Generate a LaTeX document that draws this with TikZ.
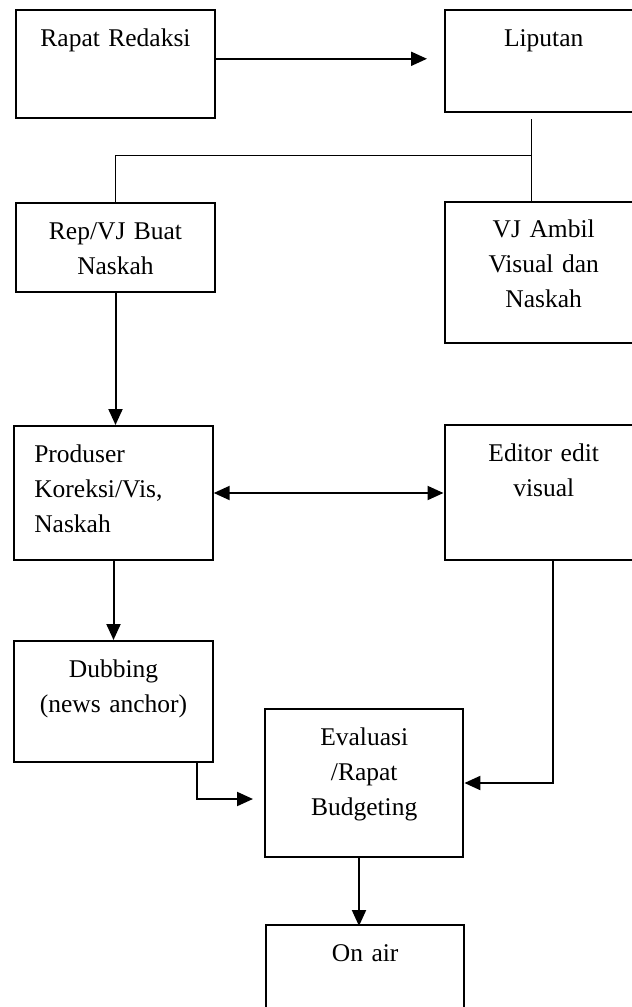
\documentclass[tikz,border=0pt]{standalone}
\usepackage{fontspec}
\setmainfont{Liberation Serif}
\usetikzlibrary{arrows.meta}

\begin{document}
\begin{tikzpicture}[
    x = 0.5pt, y = -0.5pt, % one unit = one pixel of the scan
    > = {Triangle[length=8pt,width=7pt]}, % arrow head style
    line width = 1pt, % line style
    font = \fontsize{12.75}{17.5}\selectfont
]

\tikzstyle{process} = [
    draw = black,
    line width = 1pt,
    anchor = north west,
    minimum width = 99.2pt,
    inner xsep = 4pt,
    inner ysep = 0pt,
    text width = 91.2pt,
    align = center,
    text height = 18pt % first line sits near the top
]
\tikzstyle{leftproc} = [
    process,
    align = left,
    inner xsep = 10pt,
    text width = 79.2pt
]
\tikzstyle{split} = [
    line width = 0.75pt
]

\useasboundingbox (0,0) rectangle (632,1007);

\node[process, text depth = 35.7pt] (rapat) at (15.3,9.3) {Rapat Redaksi};
\node[process, text depth = 32.9pt] (liputan) at (443.5,9.3) {Liputan};
\node[process, text depth = 26.5pt] (rep) at (15.3,202) {Rep/VJ Buat\\Naskah};
\node[process, text depth = 52.7pt] (vjambil) at (443.5,200.7) {VJ Ambil\\Visual dan\\Naskah};
\node[leftproc, text depth = 49pt] (produser) at (13.3,425) {Produser\\Koreksi/Vis,\\Naskah};
\node[process, text depth = 49.5pt] (editor) at (443.5,424) {Editor edit\\visual};
\node[process, text depth = 42.5pt] (dubbing) at (13.3,640) {Dubbing\\(news anchor)};
\node[process, text depth = 56pt] (evaluasi) at (264,708) {Evaluasi\\/Rapat\\Budgeting};
\node[process, text depth = 42pt] (onair) at (265,924) {On air};

% liputan splits into two
\coordinate (split) at (530.6,155.7);
\draw[split] ([xshift=-6pt,yshift=-3pt]liputan.south) -- ([xshift=-6pt]vjambil.north);
\draw[split] (split) -| (rep.north);

\draw[->] ([yshift=2.6pt]rapat.east) -- ++(211.3,0);
\draw[->] (rep.south) -- (rep.south |- produser.north);
\draw[<->] (produser.east) -- (produser.east -| editor.west);
\draw[->] (produser.south) -- (produser.south |- dubbing.north);
\draw[->] ([xshift=-8.35pt]dubbing.south east) |- ([xshift=-5.5pt,yshift=-8pt]evaluasi.west);
\draw[->] ([xshift=4.65pt]editor.south) |- (evaluasi.east);
\draw[->] ([xshift=-2.6pt]evaluasi.south) -- ++(0,68);
\end{tikzpicture}
\end{document}
